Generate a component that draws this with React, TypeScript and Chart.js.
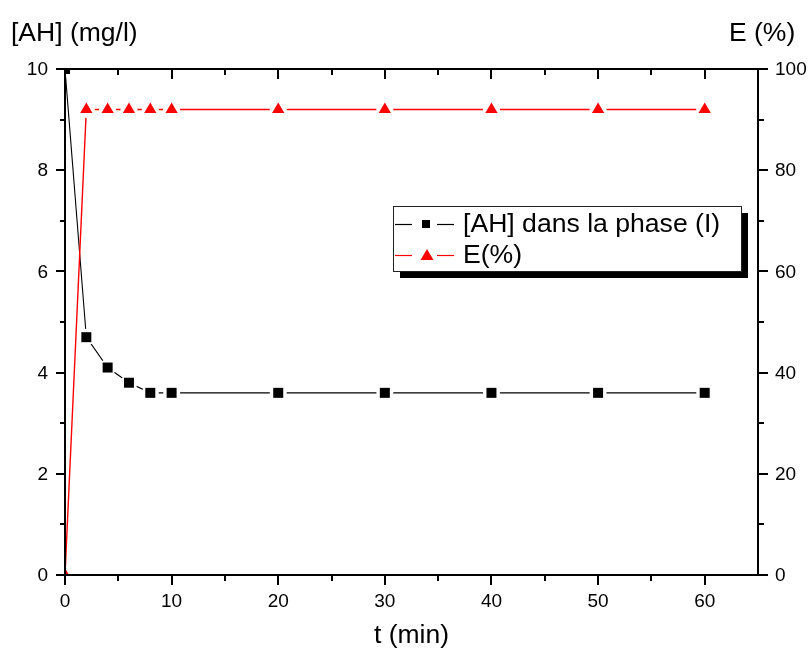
import { useEffect, useRef } from "react";
import { Chart, registerables } from "chart.js";

Chart.register(...registerables);

const timeMin = [0, 2, 4, 6, 8, 10, 20, 30, 40, 50, 60];
const ahValues = [10, 4.7, 4.1, 3.8, 3.6, 3.6, 3.6, 3.6, 3.6, 3.6, 3.6];
const eValues = [0, 92, 92, 92, 92, 92, 92, 92, 92, 92, 92];
const xTicks = [0, 10, 20, 30, 40, 50, 60];
const yLeftTicks = [0, 2, 4, 6, 8, 10];
const yRightTicks = [0, 20, 40, 60, 80, 100];
const legendLabels = ["[AH] dans la phase (I)", "E(%)"];
const axisTitles = { x: "t (min)", yLeft: "[AH] (mg/l)", yRight: "E (%)" };

const FONT = "'Liberation Sans', Arial, sans-serif";
const RED = "#ff0000";

const framePlugin = {
  id: "originFrame",
  afterDraw(chart: any) {
    const { ctx, chartArea: a, scales } = chart;
    const sx = scales.x, yl = scales.y, yr = scales.y2;
    ctx.save();
    ctx.strokeStyle = "#000";
    ctx.lineWidth = 2;
    ctx.lineCap = "butt";
    ctx.strokeRect(a.left, a.top, a.right - a.left, a.bottom - a.top);
    const line = (x1: number, y1: number, x2: number, y2: number) => {
      ctx.beginPath();
      ctx.moveTo(x1, y1);
      ctx.lineTo(x2, y2);
      ctx.stroke();
    };
    for (let v = 0; v < 65; v += 5) {
      const px = Math.round(sx.getPixelForValue(v));
      const len = v % 10 === 0 ? 10 : 6;
      line(px, a.bottom, px, a.bottom + len);
      if (v > 0) line(px, a.top, px, a.top + len);
    }
    for (let v = 0; v <= 10; v += 1) {
      const py = Math.round(yl.getPixelForValue(v));
      const len = v % 2 === 0 ? 9 : 5;
      line(a.left, py, a.left - len, py);
    }
    for (let v = 0; v <= 100; v += 10) {
      const py = Math.round(yr.getPixelForValue(v));
      const len = v % 20 === 0 ? 10 : 6;
      line(a.right, py, a.right + len, py);
    }
    ctx.fillStyle = "#000";
    ctx.font = `19px ${FONT}`;
    ctx.textAlign = "center";
    ctx.textBaseline = "alphabetic";
    xTicks.forEach((v) => ctx.fillText(String(v), sx.getPixelForValue(v), 607));
    ctx.textAlign = "right";
    ctx.textBaseline = "middle";
    yLeftTicks.forEach((v) => ctx.fillText(String(v), 48, yl.getPixelForValue(v) + 1));
    ctx.textAlign = "left";
    yRightTicks.forEach((v) => ctx.fillText(String(v), 775, yr.getPixelForValue(v) + 1));

    ctx.font = `26.5px ${FONT}`;
    ctx.textBaseline = "alphabetic";
    ctx.textAlign = "left";
    ctx.fillText(axisTitles.yLeft, 11, 41);
    ctx.fillText(axisTitles.yRight, 729, 41);
    ctx.textAlign = "center";
    ctx.fillText(axisTitles.x, (a.left + a.right) / 2, 643);

    const lx = 393, ly = 206, lw = 348, lh = 65;
    ctx.fillStyle = "#000";
    ctx.fillRect(lx + 7, ly + 7, lw, lh);
    ctx.fillStyle = "#fff";
    ctx.fillRect(lx, ly, lw, lh);
    ctx.strokeStyle = "#222";
    ctx.lineWidth = 1;
    ctx.strokeRect(lx + 0.5, ly + 0.5, lw, lh);

    const rows = [
      { y: 224, color: "#000", style: "rect" },
      { y: 255, color: RED, style: "triangle" },
    ];
    rows.forEach((r, i) => {
      ctx.strokeStyle = r.color;
      ctx.lineWidth = 1.2;
      line(395, r.y + 0.5, 412, r.y + 0.5);
      line(437, r.y + 0.5, 454, r.y + 0.5);
      ctx.fillStyle = r.color;
      if (r.style === "rect") {
        ctx.fillRect(422, r.y - 4, 8, 8);
      } else {
        ctx.beginPath();
        ctx.moveTo(427, r.y - 6);
        ctx.lineTo(433.5, r.y + 5);
        ctx.lineTo(420.5, r.y + 5);
        ctx.closePath();
        ctx.fill();
      }
      ctx.fillStyle = "#000";
      ctx.font = `26.6px ${FONT}`;
      ctx.textAlign = "left";
      ctx.textBaseline = "middle";
      ctx.fillText(legendLabels[i], 463, r.y + 1);
    });
    ctx.restore();
  },
};

export default function App() {
  const ref = useRef<HTMLCanvasElement | null>(null);
  useEffect(() => {
    if (!ref.current) return;
    const ahPts = timeMin.map((t, i) => ({ x: t, y: ahValues[i] }));
    const ePts = timeMin.map((t, i) => ({ x: t, y: eValues[i] }));
    const chart = new Chart(ref.current, {
      type: "line",
      data: {
        datasets: [
          {
            label: legendLabels[0],
            data: ahPts,
            yAxisID: "y",
            borderColor: "#000",
            borderWidth: 1.1,
            pointStyle: "circle",
            pointRadius: 8.5,
            pointBackgroundColor: "#fff",
            pointBorderColor: "#fff",
            pointBorderWidth: 0,
            clip: 0,
            order: 4,
          },
          {
            label: legendLabels[1],
            data: ePts,
            yAxisID: "y2",
            borderColor: RED,
            borderWidth: 1.4,
            pointStyle: "circle",
            pointRadius: 8.5,
            pointBackgroundColor: "#fff",
            pointBorderColor: "#fff",
            pointBorderWidth: 0,
            clip: 0,
            order: 3,
          },
          {
            label: "ahMarkers",
            data: ahPts,
            yAxisID: "y",
            showLine: false,
            borderColor: "#000",
            pointStyle: "rect",
            pointRadius: 7.07,
            pointBackgroundColor: "#000",
            pointBorderColor: "#000",
            pointBorderWidth: 0,
            clip: 0,
            order: 2,
          },
          {
            label: "eMarkers",
            data: ePts,
            yAxisID: "y2",
            showLine: false,
            borderColor: RED,
            pointStyle: "triangle",
            pointRadius: 7.1,
            pointBackgroundColor: RED,
            pointBorderColor: RED,
            pointBorderWidth: 0,
            clip: 0,
            order: 1,
          },
        ] as any,
      },
      options: {
        animation: false,
        responsive: false,
        maintainAspectRatio: false,
        layout: { padding: { left: 65, top: 69, right: 53, bottom: 78 } },
        plugins: {
          legend: { display: false },
          tooltip: { enabled: false },
          title: { display: false },
          colors: { enabled: false },
        } as any,
        elements: { line: { tension: 0 } },
        scales: {
          x: { type: "linear", min: 0, max: 65, display: false },
          y: { type: "linear", min: 0, max: 10, display: false },
          y2: { type: "linear", min: 0, max: 100, display: false },
        },
      },
      plugins: [framePlugin],
    });
    return () => chart.destroy();
  }, []);
  return (
    <div style={{ position: "absolute", left: 0, top: 0, width: 811, height: 653, background: "#fff" }}>
      <canvas ref={ref} width={811} height={653} style={{ display: "block", width: 811, height: 653 }} />
    </div>
  );
}
